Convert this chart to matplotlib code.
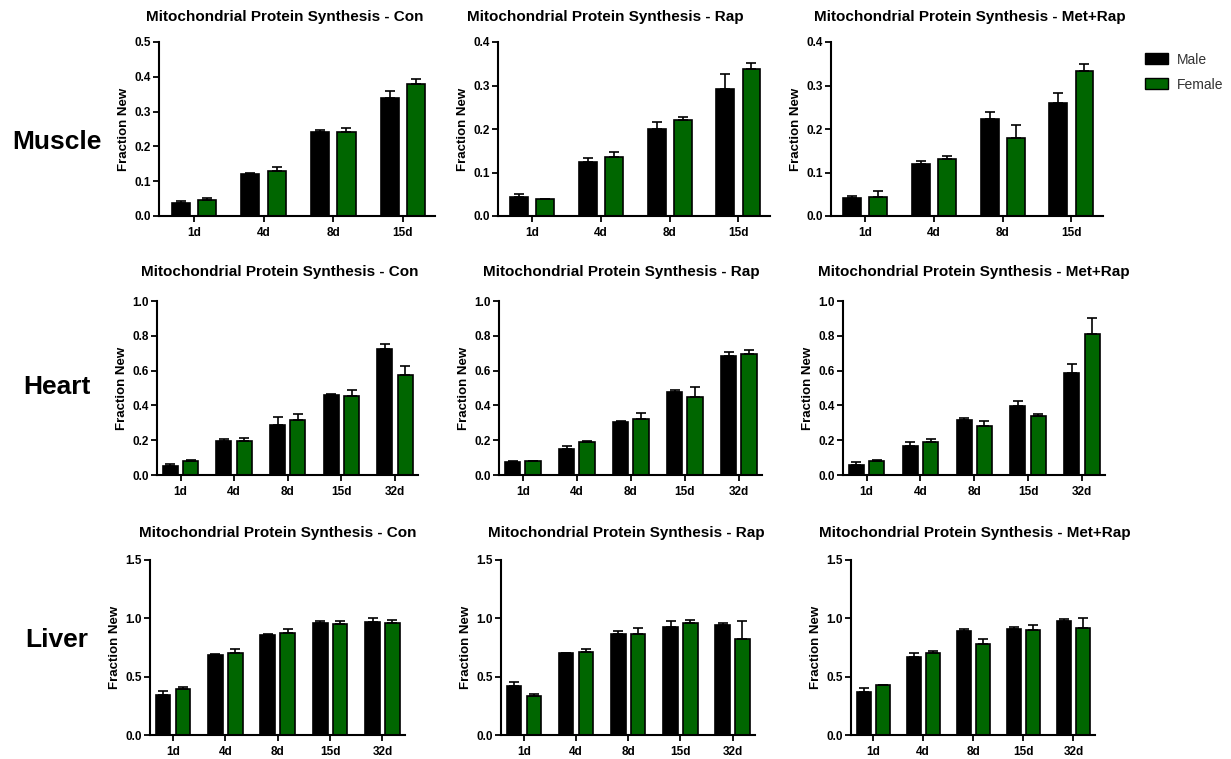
import numpy as np
import matplotlib
matplotlib.use("Agg")
import matplotlib.pyplot as plt
from matplotlib.patches import Patch

plt.rcParams["font.family"] = ["Liberation Sans", "DejaVu Sans"]
plt.rcParams["font.weight"] = "bold"

# --- data (mean, sem) ---
days_short = ["1d", "4d", "8d", "15d"]
days_long = ["1d", "4d", "8d", "15d", "32d"]
tissues = ["Muscle", "Heart", "Liver"]
treatments = ["Con", "Rap", "Met+Rap"]

muscle_con_male = [0.037, 0.121, 0.242, 0.340]
muscle_con_male_sem = [0.005, 0.003, 0.006, 0.018]
muscle_con_female = [0.047, 0.130, 0.242, 0.380]
muscle_con_female_sem = [0.005, 0.012, 0.011, 0.015]
muscle_rap_male = [0.044, 0.124, 0.200, 0.293]
muscle_rap_male_sem = [0.006, 0.009, 0.015, 0.033]
muscle_rap_female = [0.038, 0.136, 0.220, 0.339]
muscle_rap_female_sem = [0.002, 0.010, 0.008, 0.012]
muscle_metrap_male = [0.042, 0.119, 0.222, 0.260]
muscle_metrap_male_sem = [0.005, 0.007, 0.016, 0.023]
muscle_metrap_female = [0.044, 0.131, 0.180, 0.334]
muscle_metrap_female_sem = [0.013, 0.006, 0.029, 0.015]

heart_con_male = [0.054, 0.198, 0.290, 0.460, 0.725]
heart_con_male_sem = [0.011, 0.010, 0.045, 0.007, 0.027]
heart_con_female = [0.081, 0.198, 0.317, 0.456, 0.577]
heart_con_female_sem = [0.007, 0.012, 0.033, 0.034, 0.050]
heart_rap_male = [0.077, 0.152, 0.302, 0.479, 0.683]
heart_rap_male_sem = [0.006, 0.015, 0.010, 0.011, 0.025]
heart_rap_female = [0.079, 0.190, 0.319, 0.448, 0.698]
heart_rap_female_sem = [0.004, 0.008, 0.035, 0.060, 0.023]
heart_metrap_male = [0.060, 0.169, 0.317, 0.394, 0.588]
heart_metrap_male_sem = [0.017, 0.023, 0.008, 0.033, 0.049]
heart_metrap_female = [0.081, 0.188, 0.283, 0.337, 0.810]
heart_metrap_female_sem = [0.007, 0.020, 0.029, 0.015, 0.090]

liver_con_male = [0.343, 0.686, 0.854, 0.957, 0.966]
liver_con_male_sem = [0.034, 0.006, 0.012, 0.017, 0.034]
liver_con_female = [0.391, 0.706, 0.874, 0.954, 0.960]
liver_con_female_sem = [0.020, 0.031, 0.035, 0.020, 0.029]
liver_rap_male = [0.423, 0.700, 0.866, 0.929, 0.943]
liver_rap_male_sem = [0.034, 0.006, 0.023, 0.045, 0.020]
liver_rap_female = [0.337, 0.709, 0.869, 0.960, 0.820]
liver_rap_female_sem = [0.012, 0.031, 0.051, 0.026, 0.154]
liver_metrap_male = [0.371, 0.666, 0.894, 0.909, 0.980]
liver_metrap_male_sem = [0.035, 0.040, 0.015, 0.014, 0.017]
liver_metrap_female = [0.429, 0.700, 0.780, 0.900, 0.914]
liver_metrap_female_sem = [0.003, 0.017, 0.040, 0.043, 0.092]

muscle_yticks = [[0, 0.1, 0.2, 0.3, 0.4, 0.5], [0, 0.1, 0.2, 0.3, 0.4], [0, 0.1, 0.2, 0.3, 0.4]]
heart_yticks = [0, 0.2, 0.4, 0.6, 0.8, 1.0]
liver_yticks = [0, 0.5, 1.0, 1.5]

MALE_COLOR = "black"
FEMALE_COLOR = "#006600"
W, H = 1231, 759

# axes boxes in pixels: (left, right) per column, (top, bottom) per row
row_box = [(42, 216), (301, 475), (560, 735)]
col_box = [[(159, 435), (498, 770), (831, 1103)],
           [(157, 418), (499, 762), (843, 1105)],
           [(150, 405), (501, 755), (851, 1095)]]
title_x = [[285, 605, 970], [280, 621, 974], [278, 626, 975]]
title_y = [17, 272, 533]
row_label_y = [142, 387, 640]


def plot_panel(ax, labels, male, male_sem, female, female_sem, yticks):
    """
    Draws one Prism-style grouped bar panel (male / female per day)
    """
    x = np.arange(len(labels))
    n = len(labels)
    width = 0.26 if n == 4 else 0.28
    off = 0.19
    for vals, sem, col, sign in [(male, male_sem, MALE_COLOR, -1), (female, female_sem, FEMALE_COLOR, 1)]:
        ax.bar(x + sign * off, vals, width, color=col, edgecolor="black", linewidth=1.2, zorder=2)
        ax.errorbar(x + sign * off, vals, yerr=[np.zeros(n), sem], fmt="none", ecolor="black",
                    elinewidth=1.2, capsize=3.5, capthick=1.2, zorder=3)
    if n == 4:
        ax.set_xlim(-0.5, 3.46)
    else:
        ax.set_xlim(-0.44, 4.43)
    ax.set_ylim(0, yticks[-1])
    ax.set_yticks(yticks)
    ax.set_yticklabels([f"{t:.1f}" for t in yticks])
    ax.set_xticks(x)
    ax.set_xticklabels(labels)
    for s in ["top", "right"]:
        ax.spines[s].set_visible(False)
    for s in ["left", "bottom"]:
        ax.spines[s].set_linewidth(1.5)
    ax.tick_params(width=1.3, length=4, labelsize=8.5, pad=2)
    ax.tick_params(axis="x", pad=4)
    for lab in ax.get_xticklabels() + ax.get_yticklabels():
        lab.set_fontweight("bold")
    ax.set_ylabel("Fraction New", fontsize=9.5, fontweight="bold", labelpad=3)


def main():
    fig = plt.figure(figsize=(W / 100, H / 100), dpi=100)

    panels = [
        [(days_short, muscle_con_male, muscle_con_male_sem, muscle_con_female, muscle_con_female_sem),
         (days_short, muscle_rap_male, muscle_rap_male_sem, muscle_rap_female, muscle_rap_female_sem),
         (days_short, muscle_metrap_male, muscle_metrap_male_sem, muscle_metrap_female, muscle_metrap_female_sem)],
        [(days_long, heart_con_male, heart_con_male_sem, heart_con_female, heart_con_female_sem),
         (days_long, heart_rap_male, heart_rap_male_sem, heart_rap_female, heart_rap_female_sem),
         (days_long, heart_metrap_male, heart_metrap_male_sem, heart_metrap_female, heart_metrap_female_sem)],
        [(days_long, liver_con_male, liver_con_male_sem, liver_con_female, liver_con_female_sem),
         (days_long, liver_rap_male, liver_rap_male_sem, liver_rap_female, liver_rap_female_sem),
         (days_long, liver_metrap_male, liver_metrap_male_sem, liver_metrap_female, liver_metrap_female_sem)],
    ]
    yticks_all = [muscle_yticks, [heart_yticks] * 3, [liver_yticks] * 3]

    for r in range(3):
        top, bottom = row_box[r]
        for c in range(3):
            left, right = col_box[r][c]
            ax = fig.add_axes([left / W, 1 - bottom / H, (right - left) / W, (bottom - top) / H])
            plot_panel(ax, *panels[r][c], yticks_all[r][c])
            fig.text(title_x[r][c] / W, 1 - title_y[r] / H,
                     f"Mitochondrial Protein Synthesis - {treatments[c]}",
                     ha="center", va="center", fontsize=11, fontweight="bold")
        fig.text(57 / W, 1 - row_label_y[r] / H, tissues[r], ha="center", va="center",
                 fontsize=19, fontweight="bold")

    handles = [Patch(facecolor=MALE_COLOR, edgecolor="black", label="Male"),
               Patch(facecolor=FEMALE_COLOR, edgecolor="black", label="Female")]
    leg = fig.legend(handles=handles, loc="upper left", bbox_to_anchor=(1132 / W, 1 - 40 / H),
                     frameon=False, fontsize=10, handlelength=1.7, handleheight=0.8,
                     labelspacing=0.8, handletextpad=0.6)
    for t in leg.get_texts():
        t.set_fontweight("normal")
        t.set_color("#333333")

    fig.savefig("out.png", dpi=100)


if __name__ == "__main__":
    main()
